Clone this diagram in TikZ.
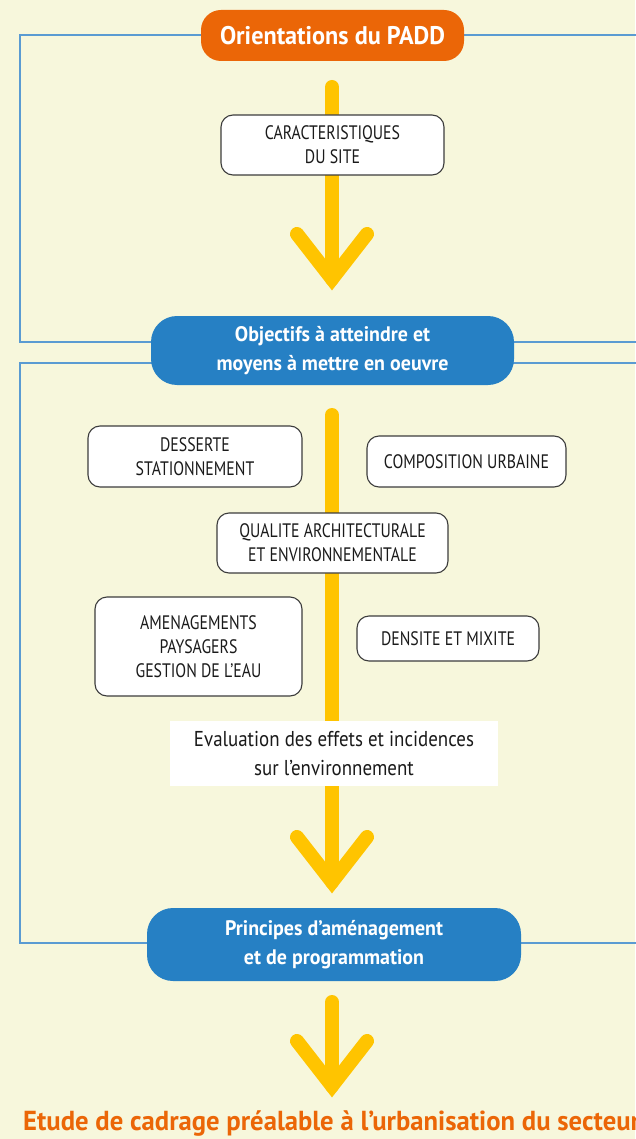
\documentclass[tikz,border=0pt]{standalone}
\usepackage{fontspec}
\setmainfont{PT Sans}[FakeStretch=0.81]
\newfontfamily\evfont{PT Sans}[FakeStretch=0.88]
\newfontfamily\bdfont{PT Sans}[FakeStretch=0.95]
\newfontfamily\etfont{PT Sans}[FakeStretch=0.97]
\definecolor{bgc}{HTML}{F7F7DC}
\definecolor{framec}{HTML}{5A9BD2}
\definecolor{yel}{HTML}{FFC400}
\definecolor{blu}{HTML}{2680C4}
\definecolor{ora}{HTML}{EB6607}
\definecolor{txt}{HTML}{1A1A1A}
\tikzset{
  framel/.style={draw=framec,line width=2pt},
  yline/.style={draw=yel,line width=14pt,line cap=round},
  ychev/.style={draw=yel,line width=14pt,line cap=round,line join=miter},
  wbox/.style={draw=txt!85,line width=1.1pt,fill=white,rounded corners=12pt,align=center,
    text=txt,font=\fontsize{19.5}{24}\selectfont,inner sep=0pt},
  bbox/.style={fill=blu,rounded corners=26pt,align=center,text=white,
    font=\bdfont\fontsize{21}{28.5}\selectfont\bfseries,inner sep=0pt},
  obox/.style={fill=ora,rounded corners=20pt,align=center,text=white,
    font=\bdfont\fontsize{25.5}{30}\selectfont\bfseries,inner sep=0pt},
  ebox/.style={fill=white,align=center,text=txt,font=\evfont\fontsize{21.5}{29}\selectfont,inner sep=0pt},
}
\begin{document}
\begin{tikzpicture}[x=1pt,y=-1pt]
\fill[bgc] (0,0) rectangle (635,1139);
\useasboundingbox (0,0) rectangle (635,1139);
% frames
\draw[framel] (640,35) -- (20,35) -- (20,342) -- (640,342);
\draw[framel] (640,363) -- (20,363) -- (20,943) -- (640,943);
% yellow arrows
\coordinate (a1s) at (332,87);
\coordinate (a1v) at (332,279);
\coordinate (a1l) at (297,234);
\coordinate (a1r) at (367,234);
\coordinate (a2s) at (332,415);
\coordinate (a2v) at (332,882);
\coordinate (a2l) at (297,837);
\coordinate (a2r) at (367,837);
\coordinate (a3s) at (332,1002);
\coordinate (a3v) at (332,1086);
\coordinate (a3l) at (297,1041);
\coordinate (a3r) at (367,1041);
\draw[yline] (a1s) -- (a1v);
\draw[ychev] (a1l) -- (a1v) -- (a1r);
\draw[yline] (a2s) -- (a2v);
\draw[ychev] (a2l) -- (a2v) -- (a2r);
\draw[yline] (a3s) -- (a3v);
\draw[ychev] (a3l) -- (a3v) -- (a3r);
% nodes
\node[obox,minimum width=263pt,minimum height=51pt] (head) at (332.5,35.5) {Orientations du PADD};
\node[wbox,minimum width=223pt,minimum height=60pt] (carac) at (332.5,145) {CARACTERISTIQUES\\DU SITE};
\node[bbox,minimum width=363pt,minimum height=69pt] (obj) at (332.5,350.5) {Objectifs à atteindre et\\moyens à mettre en oeuvre};
\node[wbox,minimum width=214pt,minimum height=61pt] (dess) at (195,456.5) {DESSERTE\\STATIONNEMENT};
\node[wbox,minimum width=199pt,minimum height=51pt] (compo) at (466.5,461.5) {COMPOSITION URBAINE};
\node[wbox,minimum width=231pt,minimum height=60pt] (qual) at (332.5,543) {QUALITE ARCHITECTURALE\\ET ENVIRONNEMENTALE};
\node[wbox,minimum width=207pt,minimum height=99pt] (amen) at (198.5,646.5) {AMENAGEMENTS\\PAYSAGERS\\GESTION DE L’EAU};
\node[wbox,minimum width=182pt,minimum height=45pt] (dens) at (448,638.5) {DENSITE ET MIXITE};
\node[ebox,minimum width=328pt,minimum height=65pt] (eval) at (334,753.5) {Evaluation des effets et incidences\\sur l’environnement};
\node[bbox,minimum width=374pt,minimum height=73pt] (princ) at (334,944.5) {Principes d’aménagement\\et de programmation};
\node[anchor=west,inner sep=0pt,text=ora,font=\etfont\fontsize{27.5}{30}\selectfont\bfseries] (etude) at (23,1123.5) {Etude de cadrage préalable à l’urbanisation du secteur};
\end{tikzpicture}
\end{document}
